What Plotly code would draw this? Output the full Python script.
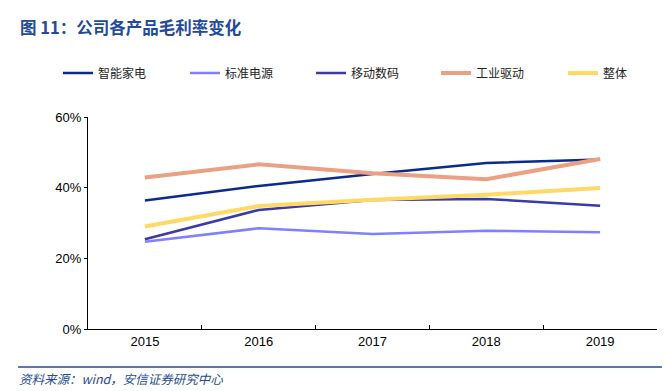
import plotly.graph_objects as go

years = ["2015", "2016", "2017", "2018", "2019"]
smart_home = [36.4, 40.5, 43.9, 47.0, 48.0]
std_power = [24.7, 28.5, 26.9, 27.8, 27.4]
mobile = [25.4, 33.7, 36.5, 36.8, 34.9]
industrial = [42.9, 46.6, 44.1, 42.4, 48.1]
overall = [29.0, 34.8, 36.6, 38.0, 39.9]

series = [
    ("智能家电", smart_home, "#0C2A8C", 2.5),
    ("标准电源", std_power, "#7F7FFF", 2.5),
    ("移动数码", mobile, "#3A3AA8", 2.5),
    ("工业驱动", industrial, "#EBA083", 4),
    ("整体", overall, "#FFD966", 4),
]

# page body has an 8px margin: figure pixel = screen pixel - 8
OFF = 8
W, H = 670 - OFF, 391 - OFF
L, R, T, B = 88 - OFF, 13, 117 - OFF, 62
PW, PH = W - L - R, H - T - B


def px(x):
    return (x - OFF - L) / PW


def py(y):
    return (H - B - (y - OFF)) / PH


font_cn = "Noto Sans CJK SC"
legend_line_start = [63, 190, 316, 441, 568]

fig = go.Figure()
layout_legends = {}
for i, (name, vals, color, w) in enumerate(series):
    key = "legend" if i == 0 else f"legend{i + 1}"
    fig.add_trace(go.Scatter(
        x=years, y=[v / 100 for v in vals], name=name, mode="lines",
        line=dict(color=color, width=w), legend=key,
    ))
    layout_legends[key] = dict(
        x=px(legend_line_start[i] - 5), y=py(73), xanchor="left", yanchor="middle",
        orientation="h", font=dict(family=font_cn, size=12, color="#222"),
        bgcolor="rgba(0,0,0,0)",
    )

fig.update_layout(
    width=W, height=H,
    margin=dict(l=L, r=R, t=T, b=B, autoexpand=False),
    paper_bgcolor="white", plot_bgcolor="white",
    font=dict(family="Liberation Sans, Arial", size=13, color="#000"),
    showlegend=True,
    xaxis=dict(
        type="category", range=[-0.5, 4.5], showline=True, linecolor="#000",
        linewidth=1, ticks="inside", tickson="boundaries", ticklen=4,
        tickcolor="#000", showgrid=False, tickfont=dict(size=13),
    ),
    yaxis=dict(
        range=[0, 0.6], dtick=0.2, tickformat=".0%", showline=True,
        linecolor="#000", linewidth=1, ticks="outside", ticklen=3,
        tickcolor="#000", showgrid=False, zeroline=False,
        tickfont=dict(size=13),
    ),
    annotations=[
        dict(text="<b>图 11：公司各产品毛利率变化</b>", xref="paper", yref="paper",
             x=px(18), y=py(27), xanchor="left", yanchor="middle",
             showarrow=False, font=dict(family=font_cn, size=16.5, color="#234A98")),
        dict(text="<i>资料来源：wind，安信证券研究中心</i>", xref="paper", yref="paper",
             x=px(17), y=py(378), xanchor="left", yanchor="middle",
             showarrow=False, font=dict(family=font_cn, size=12.5, color="#234A98")),
    ],
    shapes=[
        dict(type="line", xref="paper", yref="paper",
             x0=px(18), x1=px(670), y0=py(367), y1=py(367),
             line=dict(color="#234A98", width=1.5)),
    ],
    **layout_legends,
)

fig.write_html("out.html")
